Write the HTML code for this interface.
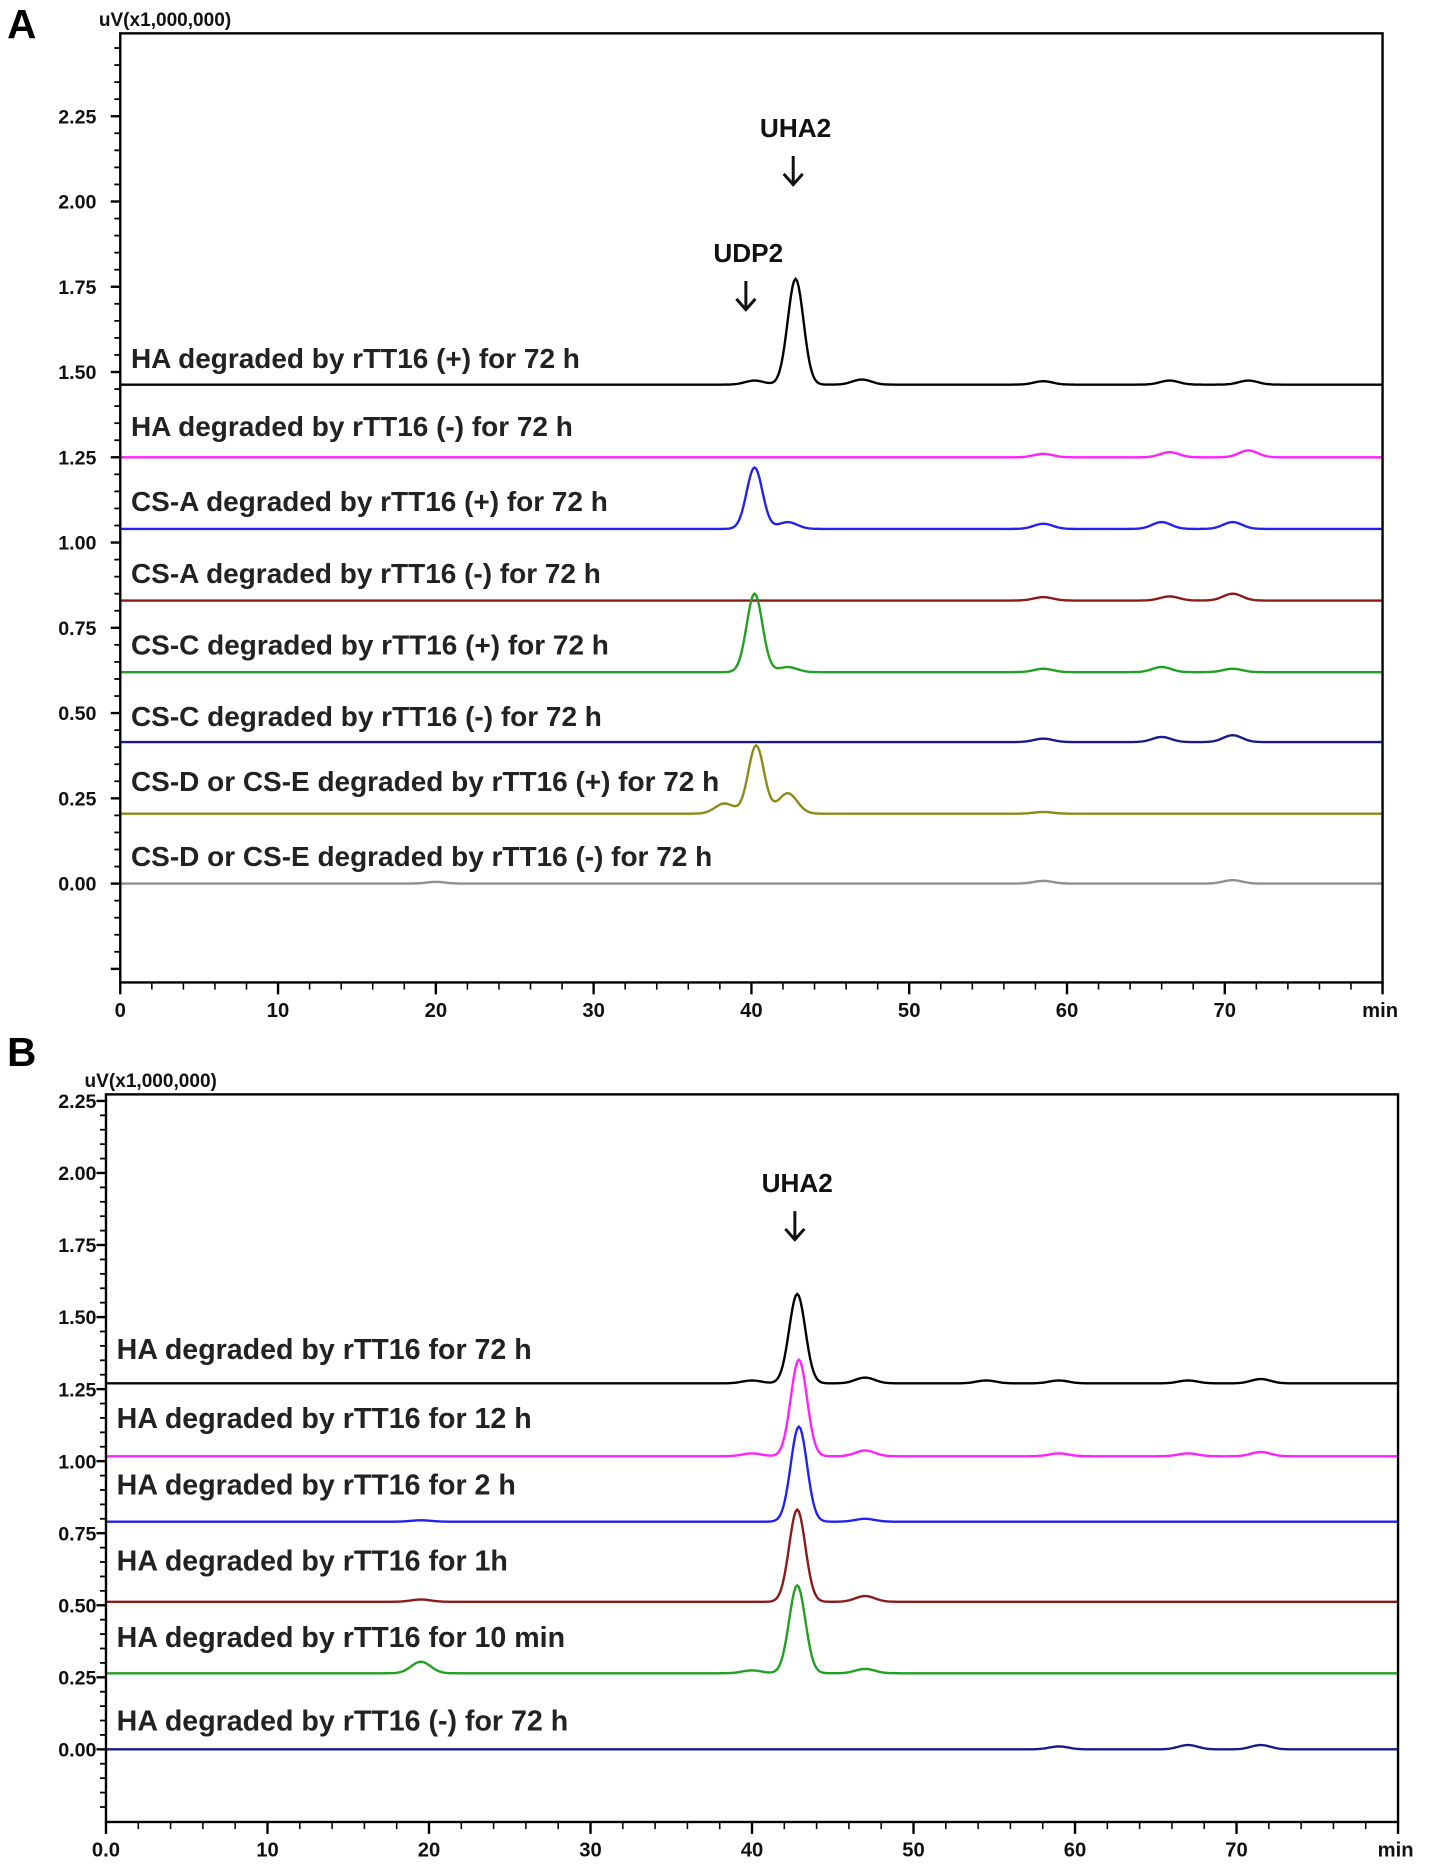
<!DOCTYPE html>
<html><head><meta charset="utf-8"><style>
html,body{margin:0;padding:0;background:#fff;}
svg{display:block;}
text{font-family:"Liberation Sans",sans-serif;font-weight:bold;}
</style></head><body>
<svg id="fig" width="1429" height="1872" viewBox="0 0 1200 1572" preserveAspectRatio="none" xmlns="http://www.w3.org/2000/svg"></svg>
<script>
// ---------- Panel A data ----------
const aLabels = ["HA degraded by rTT16 (+) for 72 h","HA degraded by rTT16 (-) for 72 h","CS-A degraded by rTT16 (+) for 72 h","CS-A degraded by rTT16 (-) for 72 h","CS-C degraded by rTT16 (+) for 72 h","CS-C degraded by rTT16 (-) for 72 h","CS-D or CS-E degraded by rTT16 (+) for 72 h","CS-D or CS-E degraded by rTT16 (-) for 72 h"];
const aColors = ["#000000","#ff22ff","#2222ee","#8b1a1a","#22a022","#1a1a8b","#8b8b1a","#909090"];
const aBaselines = [1.463,1.25,1.04,0.83,0.62,0.415,0.205,0.0];
const aPeakTimes = [[40.2,42.8,47,58.5,66.5,71.5],[58.5,66.5,71.5],[40.2,42.3,58.5,66,70.5],[58.5,66.5,70.5],[40.2,42.3,58.5,66,70.5],[58.5,66,70.5],[38.3,40.3,42.3,58.5],[20,58.5,70.5]];
const aPeakHeights = [[0.012,0.31,0.015,0.01,0.012,0.012],[0.01,0.015,0.02],[0.18,0.02,0.015,0.02,0.02],[0.01,0.012,0.02],[0.23,0.015,0.01,0.015,0.01],[0.01,0.015,0.02],[0.03,0.2,0.06,0.005],[0.005,0.008,0.01]];
const aLabelValues = [1.512,1.312,1.092,0.882,0.672,0.462,0.272,0.052];
const aYTicks = ["0.00","0.25","0.50","0.75","1.00","1.25","1.50","1.75","2.00","2.25"];
const aXTicks = ["0","10","20","30","40","50","60","70"];
// ---------- Panel B data ----------
const bLabels = ["HA degraded by rTT16 for 72 h","HA degraded by rTT16 for 12 h","HA degraded by rTT16 for 2 h","HA degraded by rTT16 for 1h","HA degraded by rTT16 for 10 min","HA degraded by rTT16 (-) for 72 h"];
const bColors = ["#000000","#ff22ff","#2222ee","#8b1a1a","#22a022","#1a1a8b"];
const bBaselines = [1.27,1.017,0.79,0.512,0.264,0.0];
const bPeakTimes = [[40,42.8,47,54.5,59,67,71.5],[40,42.9,47,59,67,71.5],[42.9,47,19.5],[42.8,47,19.5],[19.5,40,42.8,47],[59,67,71.5]];
const bPeakHeights = [[0.01,0.31,0.02,0.01,0.01,0.01,0.015],[0.01,0.335,0.02,0.01,0.01,0.015],[0.33,0.01,0.005],[0.32,0.02,0.008],[0.04,0.01,0.305,0.015],[0.01,0.015,0.015]];
const bLabelValues = [1.355,1.115,0.885,0.62,0.355,0.065];
const bYTicks = ["0.00","0.25","0.50","0.75","1.00","1.25","1.50","1.75","2.00","2.25"];
const bXTicks = ["0.0","10","20","30","40","50","60","70"];

const NS="http://www.w3.org/2000/svg";
const svg=document.getElementById('fig');
function mk(tag,attrs,parent){const e=document.createElementNS(NS,tag);for(const k in attrs)e.setAttribute(k,attrs[k]);(parent||svg).appendChild(e);return e;}

function panel(cfg){
  const g=mk('g',{});
  
  
  const X=t=>cfg.x0+(t/80)*(cfg.x1-cfg.x0);
  const Y=v=>cfg.yZero-v*cfg.pxPerUnit;
  cfg.baselines.forEach((b,i)=>{
    let d='';
    for(let t=0;t<=80;t+=0.1){
      let v=b;
      cfg.times[i].forEach((pt,j)=>{const w=cfg.heights[i][j]>0.1?0.5:0.6;v+=cfg.heights[i][j]*Math.exp(-Math.pow(t-pt,2)/(2*w*w));});
      d+=(t===0?'M':'L')+X(t).toFixed(2)+','+Y(v).toFixed(2);
    }
    const p=mk('path',{d:d,fill:'none',stroke:cfg.colors[i],'stroke-width':2},g);
    
    
    const tx=mk('text',{x:cfg.labelX,y:Y(cfg.labelVals[i]),'font-size':cfg.labelFont,fill:'#222'},g);
    tx.textContent=cfg.labels[i];
    
    
  });
  const fr=mk('rect',{x:cfg.x0,y:cfg.top,width:cfg.x1-cfg.x0,height:cfg.bottom-cfg.top,fill:'none',stroke:'#000','stroke-width':2},g);
  
  
  for(let v=-0.25;v<=2.5;v+=0.05){
    const y=Y(v); if(y<cfg.top+2||y>cfg.bottom-2)continue;
    const major=Math.abs(Math.round(v/0.25)*0.25-v)<1e-6;
    mk('line',{x1:cfg.x0-(major?8:5),x2:cfg.x0,y1:y,y2:y,stroke:'#000','stroke-width':major?2:1.5},g);
  }
  cfg.yTicks.forEach((s,i)=>{
    const t=mk('text',{x:cfg.x0-cfg.yLabOff,y:Y(i*0.25)+6,'text-anchor':'end','font-size':16.5,fill:'#111'},g);
    t.textContent=s;
    
    
  });
  for(let t=0;t<=80;t+=2){
    const major=t%10===0;
    mk('line',{x1:X(t),x2:X(t),y1:cfg.bottom,y2:cfg.bottom+(major?10:6),stroke:'#000','stroke-width':major?2:1.3},g);
  }
  cfg.xTicks.forEach((s,i)=>{
    const t=mk('text',{x:X(i*10),y:cfg.bottom+29,'text-anchor':'middle','font-size':17,fill:'#111'},g);
    t.textContent=s;
    
    
  });
  const mn=mk('text',{x:X(80)-2,y:cfg.bottom+29,'text-anchor':'middle','font-size':17,fill:'#111'},g);
  mn.textContent='min';
  
  
  const yt=mk('text',{x:cfg.x0-18,y:cfg.top-6,'font-size':16,fill:'#111'},g);
  yt.textContent='uV(x1,000,000)';
  
  
  const pl=mk('text',{x:6,y:cfg.panelY,'font-size':34,fill:'#000'},g);
  pl.textContent=cfg.panelLetter;
  
  
  cfg.annots.forEach(a=>{
    const t=mk('text',{x:X(a.t),y:a.y,'text-anchor':'middle','font-size':22,fill:'#111'},g);
    t.textContent=a.text;
    
    
    const ax=X(a.t)-2, ay=a.y+16;
    const ar=mk('path',{d:`M${ax},${ay} L${ax},${ay+24} M${ax-8},${ay+15} L${ax},${ay+24} L${ax+8},${ay+15}`,fill:'none',stroke:'#111','stroke-width':2.5},g);
    
    
  });
}
panel({name:'panel-a',x0:101,x1:1161,top:28,bottom:825,yZero:742,pxPerUnit:286.4,baselines:aBaselines,colors:aColors,times:aPeakTimes,heights:aPeakHeights,labels:aLabels,labelVals:aLabelValues,labelX:110,labelFont:23.5,yTicks:aYTicks,xTicks:aXTicks,yLabOff:20,panelLetter:'A',panelY:32,annots:[{text:'UHA2',t:42.8,y:115},{text:'UDP2',t:39.8,y:220}]});
panel({name:'panel-b',x0:89,x1:1174,top:919,bottom:1530,yZero:1469,pxPerUnit:242,baselines:bBaselines,colors:bColors,times:bPeakTimes,heights:bPeakHeights,labels:bLabels,labelVals:bLabelValues,labelX:98,labelFont:24,yTicks:bYTicks,xTicks:bXTicks,yLabOff:8,panelLetter:'B',panelY:895,annots:[{text:'UHA2',t:42.8,y:1001}]});
</script>
</body></html>
